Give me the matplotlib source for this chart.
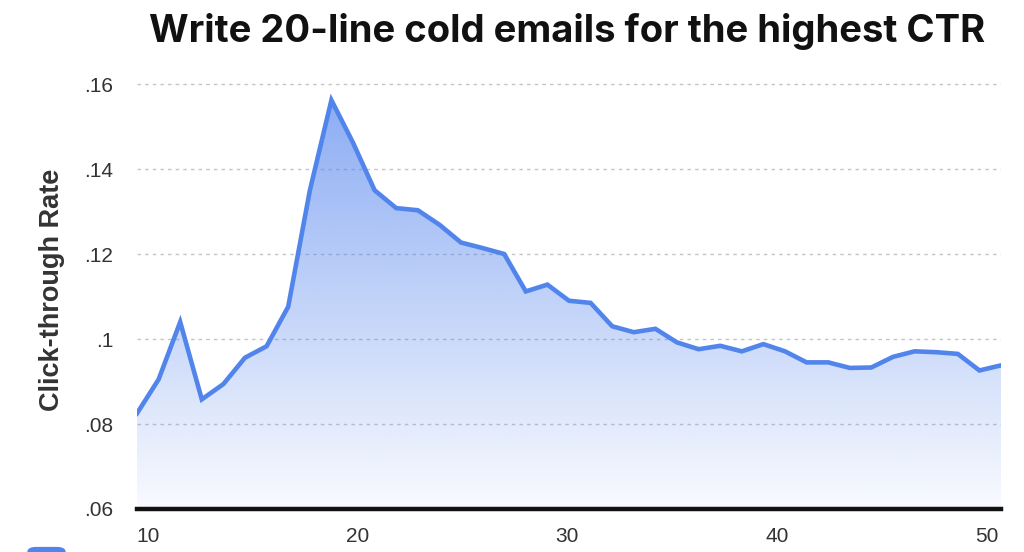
import numpy as np
import matplotlib
matplotlib.use("Agg")
import matplotlib.pyplot as plt
from matplotlib.patches import FancyBboxPatch

# lineas del email (posiciones de los puntos) y CTR
lineas = [9.48, 10.51, 11.54, 12.57, 13.60, 14.63, 15.66, 16.69, 17.72, 18.75,
          19.78, 20.81, 21.84, 22.87, 23.90, 24.93, 25.96, 26.99, 28.02, 29.05,
          30.08, 31.11, 32.14, 33.17, 34.20, 35.23, 36.26, 37.29, 38.32, 39.35,
          40.38, 41.41, 42.44, 43.47, 44.50, 45.53, 46.56, 47.59, 48.62, 49.65,
          50.68]
ctr = [0.0825, 0.0905, 0.1040, 0.0858, 0.0894, 0.0956, 0.0983, 0.1076, 0.1349, 0.1562,
       0.1462, 0.1350, 0.1308, 0.1303, 0.1269, 0.1227, 0.1214, 0.1200, 0.1112, 0.1128,
       0.1090, 0.1085, 0.1030, 0.1016, 0.1024, 0.0992, 0.0976, 0.0984, 0.0971, 0.0988,
       0.0971, 0.0945, 0.0945, 0.0932, 0.0933, 0.0958, 0.0971, 0.0969, 0.0965, 0.0926,
       0.0938]

yticks = [0.06, 0.08, 0.10, 0.12, 0.14, 0.16]
ytick_labels = [".06", ".08", ".1", ".12", ".14", ".16"]
xticks = [10, 20, 30, 40, 50]

azul = "#5285EC"
ymin, ymax = 0.06, 0.1633

fig = plt.figure(figsize=(10.24, 5.52), dpi=100)
ax = fig.add_axes([137/1024, 43/552, 864/1024, 439/552])

x = np.array(lineas)
y = np.array(ctr)

# relleno con degradado
poly = ax.fill_between(x, y, ymin, color="none", lw=0)
grad = np.linspace(0, 1, 256).reshape(-1, 1)
rgba = np.zeros((256, 1, 4))
rgba[..., 0] = 0x55/255
rgba[..., 1] = 0x85/255
rgba[..., 2] = 0xEE/255
rgba[..., 3] = 0.04 + 0.68*grad
img = ax.imshow(rgba, extent=[x[0], x[-1], ymin, ymax], origin="lower",
                aspect="auto", zorder=1)
img.set_clip_path(poly.get_paths()[0], transform=ax.transData)

ax.plot(x, y, color=azul, lw=3.3, zorder=3, solid_joinstyle="miter")

for t in yticks[1:]:
    ax.axhline(t, color="#c4c4c4", lw=1, ls=(0, (2.5, 3)), zorder=0)
ax.axhline(ymin, color="#111111", lw=3.2, zorder=4, clip_on=False)

ax.set_xlim(x[0], x[-1])
ax.set_ylim(ymin, ymax)
ax.set_xticks(xticks)
ax.set_xticklabels([str(v) for v in xticks])
ax.set_yticks(yticks)
ax.set_yticklabels(ytick_labels)
ax.tick_params(length=0, labelsize=15, labelcolor="#333333")
ax.tick_params(axis="y", pad=17)
ax.tick_params(axis="x", pad=13)
for lab in ax.get_xticklabels() + ax.get_yticklabels():
    lab.set_family("Liberation Sans")
for s in ax.spines.values():
    s.set_visible(False)

ax.set_ylabel("Click-through Rate", fontsize=19.5, fontweight="bold",
              family="Liberation Sans", color="#333333", labelpad=14)

fig.text(567/1024, 1 - 31/552, "Write 20-line cold emails for the highest CTR",
         ha="center", va="center", fontsize=27.5, fontweight="bold",
         family="Inter", color="#111111")

# pedazo de la leyenda cortada abajo
fig.patches.append(FancyBboxPatch((28/1024, -0.02), 37/1024, 0.028,
                                  boxstyle="round,pad=0,rounding_size=0.008",
                                  transform=fig.transFigure, color=azul))

fig.savefig("out.png", dpi=100)
